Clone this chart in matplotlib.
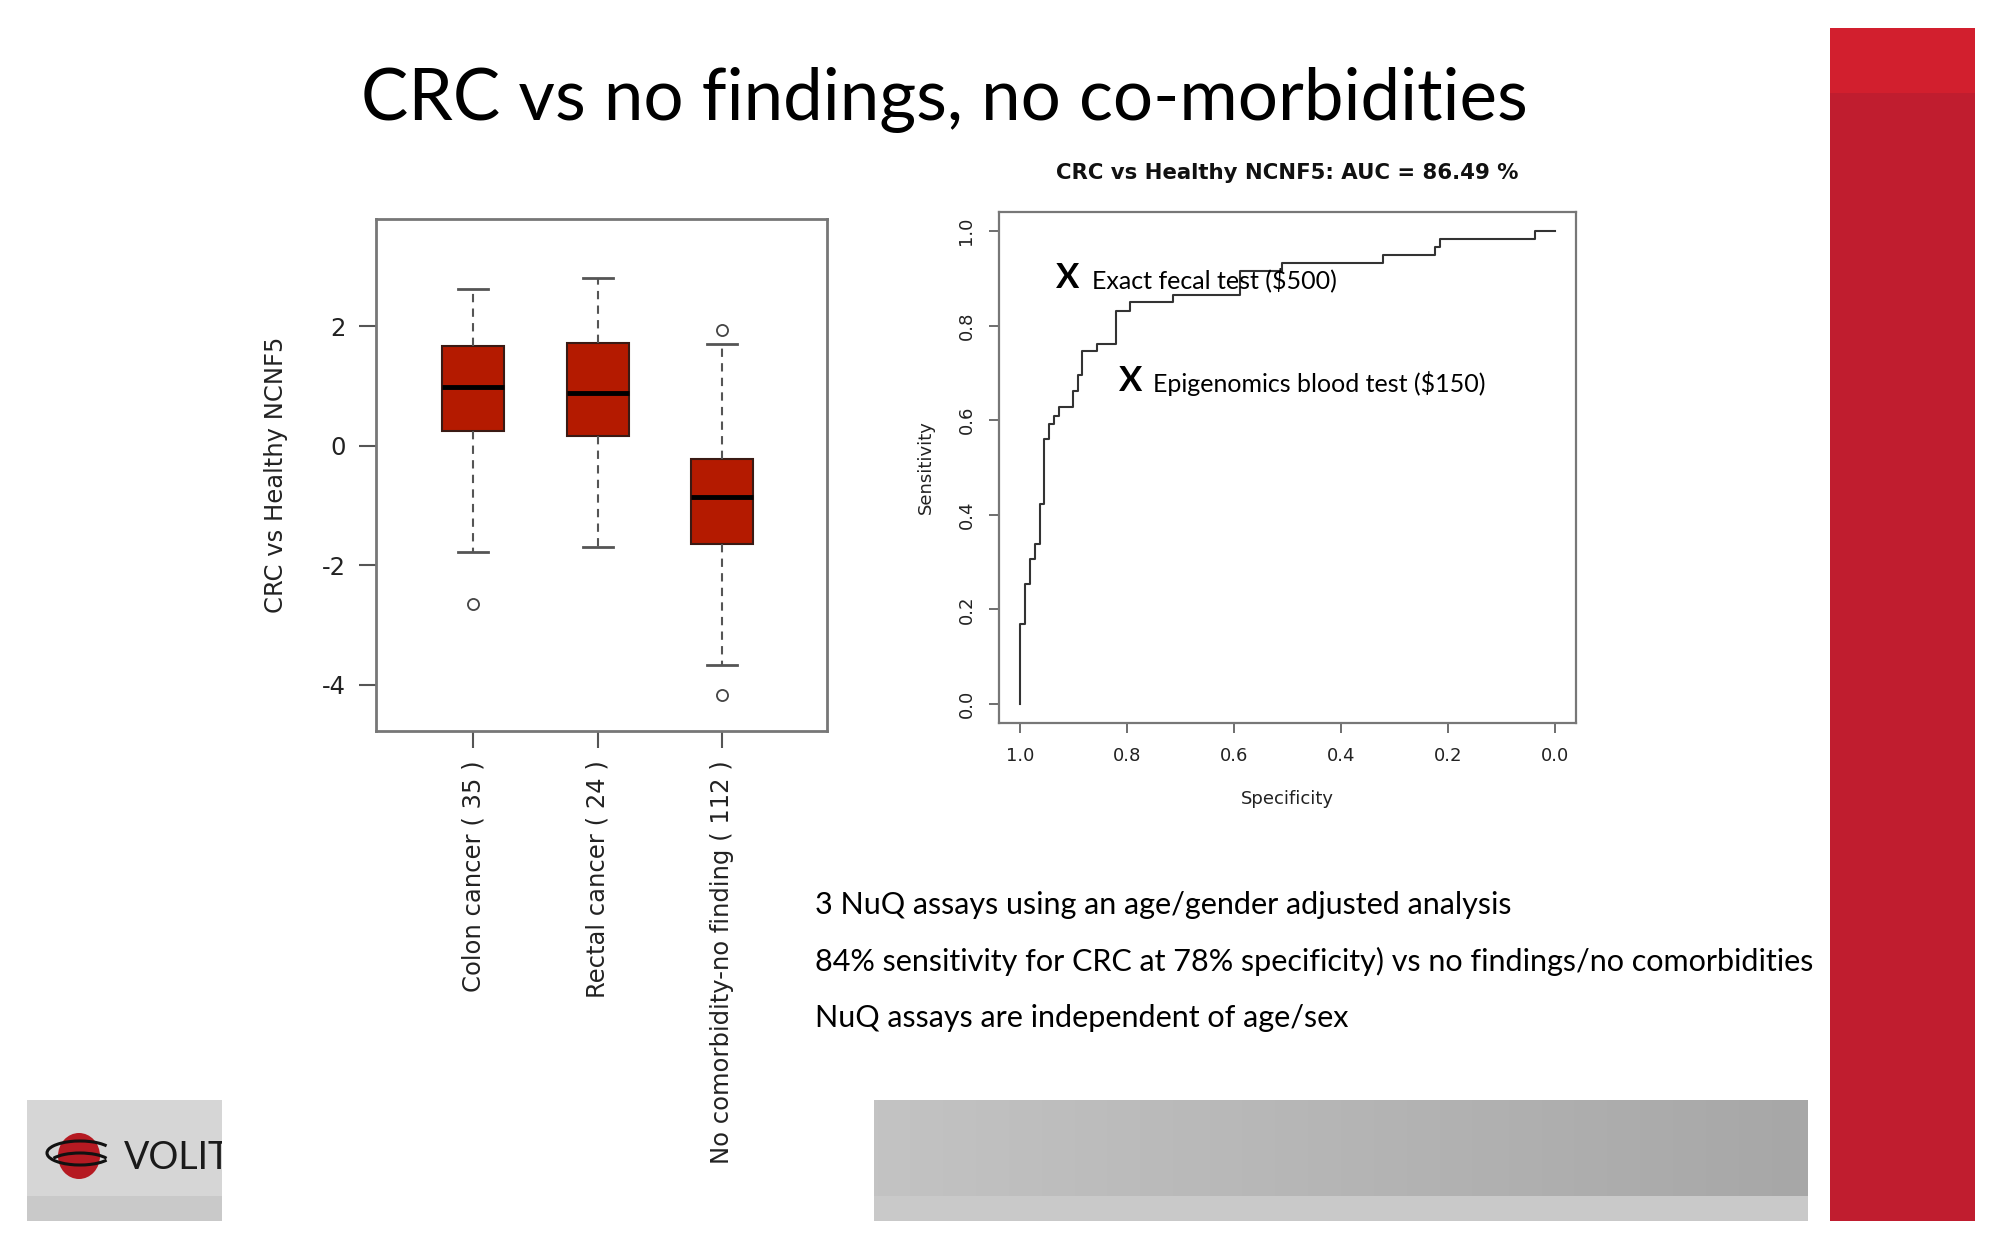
import numpy as np
import matplotlib
matplotlib.use('Agg')
import matplotlib.pyplot as plt
from matplotlib.patches import Rectangle, Ellipse, Arc

# ---- data ----
groups = ['Colon cancer ( 35 )', 'Rectal cancer ( 24 )', 'No comorbidity-no finding ( 112 )']
whis_lo = [-1.77, -1.69, -3.67]
q1 = [0.25, 0.17, -1.64]
med = [0.98, 0.88, -0.85]
q3 = [1.66, 1.72, -0.23]
whis_hi = [2.62, 2.81, 1.70]
outliers = [[-2.65], [], [1.94, -4.16]]

# ROC corner points (specificity, sensitivity), steps-post
spec = [1.0, 1.0, 0.992, 0.982, 0.972, 0.963, 0.956, 0.946, 0.937, 0.927, 0.902, 0.893,
        0.884, 0.856, 0.821, 0.795, 0.715, 0.588, 0.510, 0.321, 0.224, 0.214, 0.037, 0.0]
sens = [0.0, 0.169, 0.254, 0.306, 0.339, 0.423, 0.560, 0.592, 0.609, 0.627, 0.661, 0.696,
        0.747, 0.762, 0.830, 0.849, 0.865, 0.915, 0.933, 0.949, 0.966, 0.983, 1.0, 1.0]

tests = ['Exact fecal test ($500)', 'Epigenomics blood test ($150)']
test_spec = [0.911, 0.794]
test_sens = [0.900, 0.682]

bullets = ['3 NuQ assays using an age/gender adjusted analysis',
           '84% sensitivity for CRC at 78% specificity) vs no findings/no comorbidities',
           'NuQ assays are independent of age/sex']

W, H = 2000, 1250
fig = plt.figure(figsize=(20, 12.5), dpi=100)
fig.patch.set_facecolor('white')

# background layer in pixel coords
bg = fig.add_axes([0, 0, 1, 1], zorder=-5)
bg.axis('off')

bg.add_patch(Rectangle((1830, 28), 145, 1193, color='#C01D2F', lw=0))
bg.add_patch(Rectangle((1830, 28), 145, 65, color='#D21F2E', lw=0))

bg.add_patch(Rectangle((27, 1100), 195, 121, color='#D6D6D6', lw=0))
bg.add_patch(Rectangle((27, 1196), 195, 25, color='#C9C9C9', lw=0))

grad = np.linspace(0, 1, 256).reshape(1, -1)
bg.imshow(grad, extent=(874, 1808, 1196, 1100), aspect='auto',
          cmap=matplotlib.colors.LinearSegmentedColormap.from_list('g', ['#C3C3C3', '#A7A7A7']))
bg.add_patch(Rectangle((874, 1196), 934, 25, color='#C9C9C9', lw=0))
bg.set_xlim(0, W)
bg.set_ylim(H, 0)

# logo
bg.add_patch(Ellipse((79, 1156), 42, 46, color='#B51A22', lw=0))
bg.add_patch(Arc((80, 1153), 66, 24, theta1=15, theta2=345, color='#111111', lw=2.2))
bg.add_patch(Arc((80, 1163), 60, 20, theta1=190, theta2=350, color='#111111', lw=2.2))
t = bg.text(124, 1158, 'VOLIT', fontsize=27, family='Lato',
            color='#1a1a1a', va='center', ha='left')
clip = Rectangle((27, 1100), 195, 121, transform=bg.transData, fill=False)
t.set_clip_path(clip)
t.set_clip_on(True)

# slide title
fig.text(944 / W, 1 - 100 / H, 'CRC vs no findings, no co-morbidities', family='Lato',
         fontsize=51, ha='center', va='center', color='black')

for i, s in enumerate(bullets):
    fig.text(815 / W, 1 - (905 + 56.5 * i) / H, s, family='Lato', fontsize=22,
             ha='left', va='center', color='black')

# ---- box plot ----
ax1 = fig.add_axes([376 / W, 1 - 731 / H, 451 / W, 512 / H])
stats = []
for i in range(len(groups)):
    stats.append(dict(whislo=whis_lo[i], q1=q1[i], med=med[i], q3=q3[i],
                      whishi=whis_hi[i], fliers=outliers[i], label=groups[i]))
ax1.bxp(stats, positions=[1, 2, 3], widths=0.5, patch_artist=True,
        boxprops=dict(facecolor='#B41A00', edgecolor='#3a1a14', lw=1.5),
        medianprops=dict(color='black', lw=3.5),
        whiskerprops=dict(color='#555555', lw=1.5, ls=(0, (4, 3))),
        capprops=dict(color='#555555', lw=2),
        capwidths=0.24,
        flierprops=dict(marker='o', mfc='none', mec='#444444', ms=8, mew=1.3))
ax1.set_xlim(0.22, 3.84)
ax1.set_ylim(-4.77, 3.79)
ax1.set_yticks([-4, -2, 0, 2])
ax1.set_yticklabels(['-4', '-2', '0', '2'])
ax1.set_xticks([1, 2, 3])
ax1.set_xticklabels(groups, rotation=90, va='top')
ax1.tick_params(axis='both', colors='#555555', labelcolor='#222222', labelsize=17.5,
                length=12, width=1.5)
ax1.tick_params(axis='x', pad=9)
ax1.tick_params(axis='y', pad=10)
ax1.set_ylabel('CRC vs Healthy NCNF5', fontsize=17.5, color='#222222', labelpad=24)
for sp in ax1.spines.values():
    sp.set_color('#777777')
    sp.set_linewidth(2)

# ---- ROC ----
ax2 = fig.add_axes([999 / W, 1 - 723 / H, 577 / W, 511 / H])
ax2.plot(spec, sens, drawstyle='steps-post', color='#333333', lw=1.5)
ax2.set_xlim(1.04, -0.04)
ax2.set_ylim(-0.04, 1.04)
ax2.set_xticks([1.0, 0.8, 0.6, 0.4, 0.2, 0.0])
ax2.set_xticklabels(['1.0', '0.8', '0.6', '0.4', '0.2', '0.0'])
ax2.set_yticks([0.0, 0.2, 0.4, 0.6, 0.8, 1.0])
ax2.set_yticklabels(['0.0', '0.2', '0.4', '0.6', '0.8', '1.0'], rotation=90, va='center')
ax2.tick_params(axis='both', colors='#555555', labelcolor='#222222', labelsize=13,
                length=7, width=1.2, pad=10)
ax2.set_xlabel('Specificity', fontsize=13, color='#222222', labelpad=18)
ax2.set_ylabel('Sensitivity', fontsize=13, color='#222222', labelpad=16)
ax2.set_title('CRC vs Healthy NCNF5: AUC = 86.49 %', fontsize=15.3, fontweight='bold',
              color='#111111', pad=24)
for sp in ax2.spines.values():
    sp.set_color('#777777')
    sp.set_linewidth(1.6)

offs = [0.045, 0.043]
for i in range(len(tests)):
    ax2.text(test_spec[i], test_sens[i], 'X', family='Lato', fontweight='bold', fontsize=25,
             ha='center', va='center', color='black')
    ax2.text(test_spec[i] - offs[i], test_sens[i] - 0.004, tests[i], family='Lato', fontsize=18,
             ha='left', va='center', color='black')

fig.savefig('out.png', dpi=100)
